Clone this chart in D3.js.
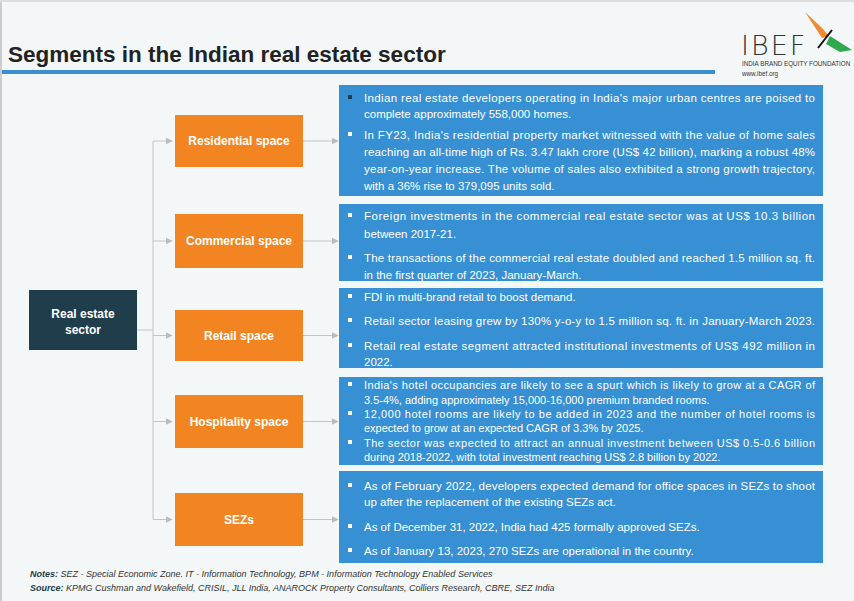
<!DOCTYPE html>
<html><head><meta charset="utf-8">
<script src="https://cdn.jsdelivr.net/npm/d3@7"></script>
<style>body{margin:0;background:#fff}svg{display:block;font-family:"Liberation Sans",Arial,sans-serif}</style>
</head><body>
<svg id="c" width="854" height="601"></svg>
<script>
// segments (orange boxes) and their vertical spans
var segments = ["Residential space", "Commercial space", "Retail space", "Hospitality space", "SEZs"];
var segTop = [115, 214, 310, 395, 493];
var segBottom = [167, 268, 361, 448, 546];
var boxTop = [85, 204, 288, 377, 471];
var boxBottom = [196, 281, 368, 465, 563];
var boxFont = [11.5, 11.5, 11.5, 11, 11.5];

// [box, y, text, bullet, justify]
var lines = [
  [0, 102, "Indian real estate developers operating in India's major urban centres are poised to", 2, 1],
  [0, 118, "complete approximately 558,000 homes.", 0, 0],
  [0, 139, "In FY23, India's residential property market witnessed with the value of home sales", 1, 1],
  [0, 156, "reaching an all-time high of Rs. 3.47 lakh crore (US$ 42 billion), marking a robust 48%", 0, 1],
  [0, 173, "year-on-year increase. The volume of sales also exhibited a strong growth trajectory,", 0, 1],
  [0, 190, "with a 36% rise to 379,095 units sold.", 0, 0],
  [1, 220, "Foreign investments in the commercial real estate sector was at US$ 10.3 billion", 1, 1],
  [1, 238, "between 2017-21.", 0, 0],
  [1, 262, "The transactions of the commercial real estate doubled and reached 1.5 million sq. ft.", 1, 1],
  [1, 279, "in the first quarter of 2023, January-March.", 0, 0],
  [2, 301, "FDI in multi-brand retail to boost demand.", 1, 0],
  [2, 325, "Retail sector leasing grew by 130% y-o-y to 1.5 million sq. ft. in January-March 2023.", 1, 1],
  [2, 350, "Retail real estate segment attracted institutional investments of US$ 492 million in", 1, 1],
  [2, 366, "2022.", 0, 0],
  [3, 389, "India's hotel occupancies are likely to see a spurt which is likely to grow at a CAGR of", 1, 1],
  [3, 404, "3.5-4%, adding approximately 15,000-16,000 premium branded rooms.", 0, 0],
  [3, 418, "12,000 hotel rooms are likely to be added in 2023 and the number of hotel rooms is", 1, 1],
  [3, 432, "expected to grow at an expected CAGR of 3.3% by 2025.", 0, 0],
  [3, 447, "The sector was expected to attract an annual investment between US$ 0.5-0.6 billion", 1, 1],
  [3, 461, "during 2018-2022, with total investment reaching US$ 2.8 billion by 2022.", 0, 0],
  [4, 490, "As of February 2022, developers expected demand for office spaces in SEZs to shoot", 1, 1],
  [4, 506, "up after the replacement of the existing SEZs act.", 0, 0],
  [4, 531, "As of December 31, 2022, India had 425 formally approved SEZs.", 1, 0],
  [4, 555, "As of January 13, 2023, 270 SEZs are operational in the country.", 1, 0]
];

var svg = d3.select("#c");
svg.append("rect").attr("x", 0).attr("y", 0).attr("width", 854).attr("height", 601).attr("fill", "#f4f7f8");
svg.append("rect").attr("x", 0).attr("y", 0).attr("width", 2).attr("height", 601).attr("fill", "#ccc");
svg.append("rect").attr("x", 0).attr("y", 0).attr("width", 854).attr("height", 2).attr("fill", "#ddd");

svg.append("text").attr("x", 8).attr("y", 62).attr("font-size", 22.5).attr("font-weight", "bold")
  .attr("fill", "#222").text("Segments in the Indian real estate sector");
svg.append("rect").attr("x", 2).attr("y", 70).attr("width", 713).attr("height", 4).attr("fill", "#3a8fd0");

// logo
var logo = svg.append("g");
logo.append("text").attr("x", 741).attr("y", 55).attr("font-size", 27).attr("letter-spacing", 2)
  .attr("fill", "#333").attr("font-family", "DejaVu Sans").attr("font-weight", 300).text("IBEF");
logo.append("path").attr("d", "M805,12 L822,28 L829,36 L822,38 Z").attr("fill", "#f08a2c");
logo.append("path").attr("d", "M830,36 L852,50 L840,52 L826,44 Z").attr("fill", "#2fa84f");
logo.append("path").attr("d", "M818,48 L832,30").attr("stroke", "#111").attr("stroke-width", 2);
logo.append("text").attr("x", 742).attr("y", 66).attr("font-size", 6.3).attr("fill", "#333").text("INDIA BRAND EQUITY FOUNDATION");
logo.append("text").attr("x", 742).attr("y", 76).attr("font-size", 6.3).attr("fill", "#333").text("www.ibef.org");

// arrows
var defs = svg.append("defs");
defs.append("marker").attr("id", "ar").attr("viewBox", "0 0 10 10").attr("refX", 9).attr("refY", 5)
  .attr("markerWidth", 7).attr("markerHeight", 7).attr("orient", "auto")
  .append("path").attr("d", "M0,0L10,5L0,10Z").attr("fill", "#bbb");

var mid = segments.map(function(s, i) { return (segTop[i] + segBottom[i]) / 2; });
var grey = "#c4c4c4";
svg.append("line").attr("x1", 153).attr("x2", 153).attr("y1", mid[0]).attr("y2", mid[4]).attr("stroke", grey);
svg.append("line").attr("x1", 137).attr("x2", 153).attr("y1", 330).attr("y2", 330).attr("stroke", grey);
segments.forEach(function(s, i) {
  svg.append("line").attr("x1", 153).attr("x2", 172).attr("y1", mid[i]).attr("y2", mid[i])
    .attr("stroke", grey).attr("marker-end", "url(#ar)");
  svg.append("line").attr("x1", 303).attr("x2", 338).attr("y1", mid[i]).attr("y2", mid[i])
    .attr("stroke", grey).attr("marker-end", "url(#ar)");
});

// root
svg.append("rect").attr("x", 29).attr("y", 290).attr("width", 108).attr("height", 60).attr("fill", "#1f3d4a");
svg.append("text").attr("x", 83).attr("y", 318).attr("text-anchor", "middle").attr("fill", "#fff")
  .attr("font-size", 12).attr("font-weight", "bold").text("Real estate");
svg.append("text").attr("x", 83).attr("y", 334).attr("text-anchor", "middle").attr("fill", "#fff")
  .attr("font-size", 12).attr("font-weight", "bold").text("sector");

// orange boxes
var seg = svg.selectAll(".seg").data(segments).enter().append("g").attr("class", "seg");
seg.append("rect").attr("x", 175).attr("width", 128)
  .attr("y", function(d, i) { return segTop[i]; })
  .attr("height", function(d, i) { return segBottom[i] - segTop[i]; }).attr("fill", "#f28522");
seg.append("text").attr("x", 239).attr("y", function(d, i) { return mid[i] + 4; })
  .attr("text-anchor", "middle").attr("fill", "#fff").attr("font-size", 12).attr("font-weight", "bold")
  .text(function(d) { return d; });

// blue boxes
svg.selectAll(".box").data(boxTop).enter().append("rect").attr("class", "box")
  .attr("x", 339).attr("width", 484)
  .attr("y", function(d) { return d; })
  .attr("height", function(d, i) { return boxBottom[i] - d; }).attr("fill", "#3790d3");

var tl = svg.selectAll(".ln").data(lines).enter().append("g").attr("class", "ln");
tl.filter(function(d) { return d[3]; }).append("rect")
  .attr("x", 348).attr("y", function(d) { return d[1] - 7; }).attr("width", 4).attr("height", 4)
  .attr("fill", function(d) { return d[3] === 2 ? "#1f3d4a" : "#fff"; });
tl.append("text").attr("x", 364).attr("y", function(d) { return d[1]; })
  .attr("fill", "#fff").attr("font-size", function(d) { return boxFont[d[0]]; })
  .each(function(d) { if (d[4]) d3.select(this).attr("textLength", 451).attr("lengthAdjust", "spacing"); })
  .text(function(d) { return d[2]; });

// notes
var n1 = svg.append("text").attr("x", 30).attr("y", 577).attr("font-size", 9).attr("font-style", "italic").attr("fill", "#333");
n1.append("tspan").attr("font-weight", "bold").attr("fill", "#1f3d4a").text("Notes: ");
n1.append("tspan").text("SEZ - Special Economic Zone. IT - Information Technology, BPM - Information Technology Enabled Services");
var n2 = svg.append("text").attr("x", 30).attr("y", 591).attr("font-size", 9).attr("font-style", "italic").attr("fill", "#333");
n2.append("tspan").attr("font-weight", "bold").attr("fill", "#1f3d4a").text("Source: ");
n2.append("tspan").text("KPMG Cushman and Wakefield, CRISIL, JLL India, ANAROCK Property Consultants, Colliers Research, CBRE, SEZ India");
</script>
</body></html>
